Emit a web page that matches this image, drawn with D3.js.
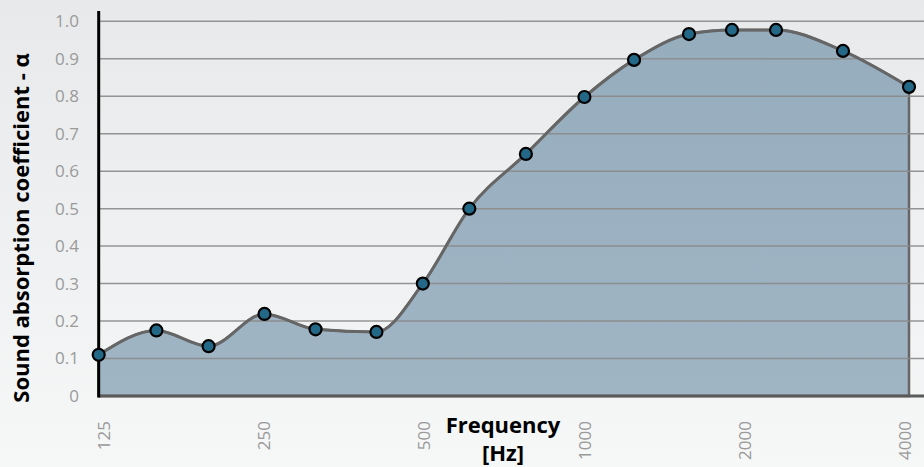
<!DOCTYPE html>
<html>
<head>
<meta charset="utf-8">
<script src="https://cdn.jsdelivr.net/npm/d3@7"></script>
<style>
  html, body { margin: 0; padding: 0; }
  body { width: 924px; height: 467px; overflow: hidden; }
  svg { display: block; font-family: "Open Sans", "Noto Sans", sans-serif; }
</style>
</head>
<body>
<div id="chart"></div>
<script>
// Données
const freqs = [125, 160, 200, 254, 316, 410, 500, 610, 777, 998, 1234, 1561, 1876, 2265, 3016, 4000];
const alpha = [0.11, 0.175, 0.133, 0.219, 0.178, 0.171, 0.30, 0.50, 0.646, 0.798, 0.897, 0.966, 0.977, 0.977, 0.921, 0.825];
const xTickValues = [125, 250, 500, 1000, 2000, 4000];
const yTickValues = [0, 0.1, 0.2, 0.3, 0.4, 0.5, 0.6, 0.7, 0.8, 0.9, 1.0];

const width = 924;
const height = 467;

const data = freqs.map((f, i) => ({ f: f, a: alpha[i] }));

const svg = d3.select("#chart")
    .append("svg")
    .attr("width", width)
    .attr("height", height);

// Fond en dégradé
const defs = svg.append("defs");
const bg = defs.append("linearGradient")
    .attr("id", "bg")
    .attr("x1", "0%").attr("y1", "0%")
    .attr("x2", "0%").attr("y2", "100%");
bg.append("stop").attr("offset", "0%").attr("stop-color", "#e8e9eb");
bg.append("stop").attr("offset", "100%").attr("stop-color", "#f6f7f7");

const fillGrad = defs.append("linearGradient")
    .attr("id", "fillGrad")
    .attr("x1", "0%").attr("y1", "0%")
    .attr("x2", "0%").attr("y2", "100%");
fillGrad.append("stop").attr("offset", "0%").attr("stop-color", "#96adbe");
fillGrad.append("stop").attr("offset", "100%").attr("stop-color", "#a0b5c4");

svg.append("rect")
    .attr("width", width)
    .attr("height", height)
    .attr("fill", "url(#bg)");

// Echelles
const x = d3.scaleLog()
    .domain([125, 4000])
    .range([98.7, 909]);

const y = d3.scaleLinear()
    .domain([0, 1])
    .range([396, 21.3]);

// les libellés de l'axe X sont un peu resserrés par rapport aux points
const xLabel = x.copy().range([104, 905]);

// Aire sous la courbe
const area = d3.area()
    .x(d => x(d.f))
    .y0(y(0))
    .y1(d => y(d.a))
    .curve(d3.curveMonotoneX);

svg.append("path")
    .datum(data)
    .attr("d", area)
    .attr("fill", "url(#fillGrad)")
    .attr("stroke", "#666")
    .attr("stroke-width", 2.5);

// Lignes de grille
svg.append("g")
    .selectAll("line")
    .data(yTickValues.filter(v => v > 0))
    .enter().append("line")
    .attr("x1", x(125) + 1)
    .attr("x2", width)
    .attr("y1", d => y(d))
    .attr("y2", d => y(d))
    .attr("stroke", "#8a8a8a")
    .attr("stroke-opacity", 0.9)
    .attr("stroke-width", 1.5);

// Ligne de base
svg.append("line")
    .attr("x1", x(125))
    .attr("x2", width)
    .attr("y1", y(0))
    .attr("y2", y(0))
    .attr("stroke", "#5a5a5a")
    .attr("stroke-width", 3);

// Courbe
const line = d3.line()
    .x(d => x(d.f))
    .y(d => y(d.a))
    .curve(d3.curveMonotoneX);

svg.append("path")
    .datum(data)
    .attr("d", line)
    .attr("fill", "none")
    .attr("stroke", "#666")
    .attr("stroke-width", 3);

// Axe vertical
svg.append("line")
    .attr("x1", x(125))
    .attr("x2", x(125))
    .attr("y1", 11)
    .attr("y2", y(0) + 1.5)
    .attr("stroke", "#000")
    .attr("stroke-width", 3);

// Points
svg.append("g")
    .selectAll("circle")
    .data(data)
    .enter().append("circle")
    .attr("cx", d => x(d.f))
    .attr("cy", d => y(d.a))
    .attr("r", 6)
    .attr("fill", "#236887")
    .attr("stroke", "#000")
    .attr("stroke-width", 2.2);

// Libellés de l'axe Y
svg.append("g")
    .selectAll("text")
    .data(yTickValues)
    .enter().append("text")
    .attr("x", 79)
    .attr("y", d => y(d))
    .attr("dy", "0.35em")
    .attr("text-anchor", "end")
    .attr("font-size", "17px")
    .attr("fill", "#9a9a9a")
    .text(d => d === 0 ? "0" : d3.format(".1f")(d));

// Libellés de l'axe X (verticaux)
svg.append("g")
    .selectAll("text")
    .data(xTickValues)
    .enter().append("text")
    .attr("transform", d => `translate(${xLabel(d)}, 421) rotate(-90)`)
    .attr("dy", "0.35em")
    .attr("text-anchor", "end")
    .attr("font-size", "17px")
    .attr("fill", "#9a9a9a")
    .text(d => d);

// Titres des axes
svg.append("text")
    .attr("transform", `translate(21, 228) rotate(-90)`)
    .attr("dy", "0.35em")
    .attr("text-anchor", "middle")
    .attr("font-size", "22px")
    .attr("font-weight", "bold")
    .attr("fill", "#000")
    .text("Sound absorption coefficient - α");

const xTitle = svg.append("text")
    .attr("text-anchor", "middle")
    .attr("font-size", "22px")
    .attr("font-weight", "bold")
    .attr("fill", "#000");
xTitle.append("tspan").attr("x", 503).attr("y", 433).text("Frequency");
xTitle.append("tspan").attr("x", 503).attr("y", 461).text("[Hz]");
</script>
</body>
</html>
